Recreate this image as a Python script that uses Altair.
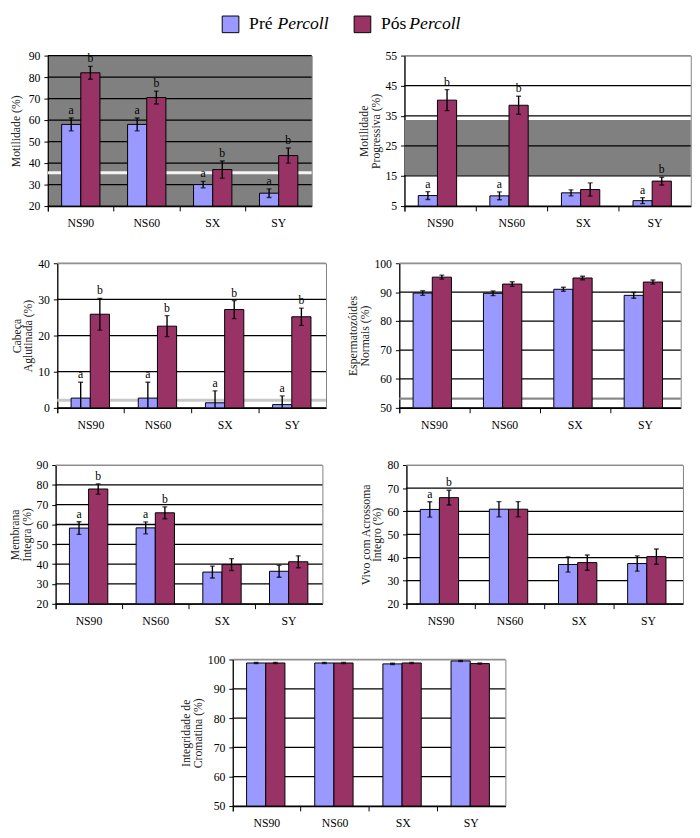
import altair as alt
import pandas as pd

categories = ["NS90", "NS60", "SX", "SY"]
series = ["Pré Percoll", "Pós Percoll"]
prefixes = ["Pré", "Pós"]
colors = ["#9999FF", "#993366"]

# Motilidade (%)
mot_pre = [58, 58, 30, 26]
mot_pre_err = [3, 3, 1.5, 2]
mot_pos = [82, 70.5, 37, 43.5]
mot_pos_err = [3, 3, 4, 3.5]
mot_pre_lbl = ["a", "a", "a", "a"]
mot_pos_lbl = ["b", "b", "b", "b"]

# Motilidade Progressiva (%)
prog_pre = [8.5, 8.4, 9.4, 6.8]
prog_pre_err = [1.3, 1.3, 1.0, 1.0]
prog_pos = [40.2, 38.5, 10.5, 13.3]
prog_pos_err = [3.5, 3.0, 2.2, 1.3]
prog_pre_lbl = ["a", "a", "", "a"]
prog_pos_lbl = ["b", "b", "", "b"]

# Cabeça Aglutinada (%)
cab_pre = [2.7, 2.7, 1.4, 0.9]
cab_pre_err = [4.4, 4.4, 3.3, 2.4]
cab_pos = [25.9, 22.6, 27.2, 25.2]
cab_pos_err = [4.4, 2.9, 2.5, 2.4]
cab_pre_lbl = ["a", "a", "a", "a"]
cab_pos_lbl = ["b", "b", "b", "b"]

# Espermatozóides Normais (%)
nor_pre = [89.7, 89.6, 91.0, 88.9]
nor_pre_err = [0.8, 0.8, 0.7, 1.0]
nor_pos = [95.2, 92.8, 94.9, 93.5]
nor_pos_err = [0.7, 0.8, 0.6, 0.7]
nor_lbl = ["", "", "", ""]

# Membrana Íntegra (%)
mem_pre = [58.2, 58.3, 36.0, 36.4]
mem_pre_err = [3.2, 3.0, 3.0, 3.0]
mem_pos = [77.9, 65.9, 39.8, 41.2]
mem_pos_err = [2.6, 3.0, 3.0, 3.0]
mem_pre_lbl = ["a", "a", "", ""]
mem_pos_lbl = ["b", "b", "", ""]

# Vivo com Acrossoma Íntegro (%)
viv_pre = [60.8, 60.9, 37.0, 37.4]
viv_pre_err = [3.3, 3.3, 3.3, 3.3]
viv_pos = [65.9, 60.9, 37.8, 40.4]
viv_pos_err = [3.2, 3.3, 3.3, 3.3]
viv_pre_lbl = ["a", "", "", ""]
viv_pos_lbl = ["b", "", "", ""]

# Integridade de Cromatina (%)
cro_pre = [98.8, 98.8, 98.5, 99.5]
cro_pre_err = [0.2, 0.2, 0.2, 0.2]
cro_pos = [98.8, 98.8, 98.8, 98.6]
cro_pos_err = [0.2, 0.2, 0.2, 0.2]
cro_lbl = ["", "", "", ""]

FONT = "Liberation Serif"


def panel(pre, pre_err, pos, pos_err, pre_lbl, pos_lbl, ymin, ymax, ystep,
          title, w, h, tpad=3, fill=None, band=None, ref=None):
    rows = []
    for i, c in enumerate(categories):
        for s, v, e, l in ((series[0], pre[i], pre_err[i], pre_lbl[i]),
                           (series[1], pos[i], pos_err[i], pos_lbl[i])):
            rows.append(dict(cat=c, serie=s, value=v, lo=v - e, hi=v + e, label=l))
    df = pd.DataFrame(rows)
    ticks = list(range(ymin, ymax + 1, ystep))

    yscale = alt.Scale(domain=[ymin, ymax], nice=False, zero=False)
    yaxis = alt.Axis(values=ticks, grid=False, title=title, tickSize=4,
                     labelPadding=4, titlePadding=tpad, titleLineHeight=12,
                     domainWidth=1.2)

    def Y(field):
        return alt.Y(field, scale=yscale, axis=yaxis, title=title)

    x = alt.X("cat:N", sort=categories,
              scale=alt.Scale(paddingInner=0, paddingOuter=0),
              axis=alt.Axis(title=None, labelAngle=0, bandPosition=0, tickExtra=True,
                            tickSize=5, labelPadding=7, domainWidth=1.2))
    xo = alt.XOffset("serie:N", sort=series,
                     scale=alt.Scale(paddingInner=0, paddingOuter=0.72))

    layers = []
    if band is not None:
        bdf = pd.DataFrame({"y0": [band[0]], "y1": [band[1]]})
        layers.append(alt.Chart(bdf).mark_rect(color="#808080").encode(
            y=Y("y0:Q"), y2="y1:Q"))
    if ref is not None:
        rdf = pd.DataFrame({"v": [ref[0]]})
        layers.append(alt.Chart(rdf).mark_rule(color=ref[1], strokeWidth=ref[2]).encode(
            y=Y("v:Q")))
    gdf = pd.DataFrame({"v": ticks})
    top_col = "black" if fill else "#909090"
    layers.append(alt.Chart(gdf).mark_rule(strokeWidth=1.3).encode(
        y=Y("v:Q"),
        color=alt.condition(alt.datum.v == ymax, alt.value(top_col), alt.value("black"))))

    base = alt.Chart(df)
    layers.append(base.mark_bar(stroke="black", strokeWidth=1, clip=True).encode(
        x=x, xOffset=xo, y=Y("value:Q"), y2=alt.datum(ymin),
        color=alt.Color("serie:N", scale=alt.Scale(domain=series, range=colors), legend=None)))
    layers.append(base.mark_rule(color="black", strokeWidth=1.4, clip=True).encode(
        x=x, xOffset=xo, y=Y("lo:Q"), y2="hi:Q"))
    layers.append(base.mark_tick(color="black", size=5, thickness=1.4, clip=True).encode(
        x=x, xOffset=xo, y=Y("lo:Q")))
    layers.append(base.mark_tick(color="black", size=5, thickness=1.4, clip=True).encode(
        x=x, xOffset=xo, y=Y("hi:Q")))
    layers.append(base.mark_text(font=FONT, fontSize=12, baseline="bottom", dy=-1,
                                 color="black", fill="black").encode(
        x=x, xOffset=xo, y=Y("hi:Q"), text="label:N"))

    view = alt.ViewBackground(stroke="#808080", strokeWidth=1,
                              fill=fill if fill else "white")
    return alt.layer(*layers).properties(width=w, height=h, view=view)


p1 = panel(mot_pre, mot_pre_err, mot_pos, mot_pos_err, mot_pre_lbl, mot_pos_lbl,
           20, 90, 10, "Motilidade (%)", 270, 154, tpad=6, fill="#808080",
           ref=(35.5, "#f4f4f4", 3))
p2 = panel(prog_pre, prog_pre_err, prog_pos, prog_pos_err, prog_pre_lbl, prog_pos_lbl,
           5, 55, 10, ["Motilidade", "Progressiva (%)"], 293, 154, band=(15.3, 33.6))
p3 = panel(cab_pre, cab_pre_err, cab_pos, cab_pos_err, cab_pre_lbl, cab_pos_lbl,
           0, 40, 10, ["Cabeça", "Aglutinada (%)"], 275, 148,
           ref=(2.1, "#c8c8c8", 3))
p4 = panel(nor_pre, nor_pre_err, nor_pos, nor_pos_err, nor_lbl, nor_lbl,
           50, 100, 10, ["Espermatozóides", "Normais (%)"], 288, 148,
           ref=(53.2, "#8a8a8a", 2.5))
p5 = panel(mem_pre, mem_pre_err, mem_pos, mem_pos_err, mem_pre_lbl, mem_pos_lbl,
           20, 90, 10, ["Membrana", "Íntegra (%)"], 273, 142)
p6 = panel(viv_pre, viv_pre_err, viv_pos, viv_pos_err, viv_pre_lbl, viv_pos_lbl,
           20, 80, 10, ["Vivo com Acrossoma", "Íntegro (%)"], 283, 142)
p7 = panel(cro_pre, cro_pre_err, cro_pos, cro_pos_err, cro_lbl, cro_lbl,
           50, 100, 10, ["Integridade de", "Cromatina (%)"], 279, 150)

# Legend built from the series names
ldf = pd.DataFrame({"serie": series, "prefix": prefixes, "italic": ["Percoll", "Percoll"]})
lx = alt.X("serie:N", sort=series,
           scale=alt.Scale(type="point", range=[8, 143], padding=0), axis=None)
lbase = alt.Chart(ldf)
legend = alt.layer(
    lbase.mark_square(size=290, stroke="black", strokeWidth=1, opacity=1).encode(
        x=lx, color=alt.Color("serie:N", scale=alt.Scale(domain=series, range=colors), legend=None)),
    lbase.mark_text(font=FONT, fontSize=18, align="left", dx=19,
                    color="black").encode(x=lx, text="prefix:N"),
    lbase.mark_text(font=FONT, fontSize=18, fontStyle="italic", align="left",
                    dx=48, color="black").encode(x=lx, text="italic:N"),
).properties(width=300, height=18,
             view=alt.ViewBackground(stroke="transparent", fill="transparent"))

row1 = alt.hconcat(p1, p2, spacing=44)
row2 = alt.hconcat(p3, p4, spacing=18)
row3 = alt.hconcat(p5, p6, spacing=35)

rows123 = alt.vconcat(row1, row2, row3, spacing=27.5, center=True)
mid = alt.vconcat(rows123, p7, spacing=19, center=True)

chart = alt.vconcat(legend, mid, spacing=13, center=True).properties(
    padding={"left": 0, "top": -5, "right": 0, "bottom": 0}
).configure(font=FONT).configure_axis(
    labelFont=FONT, titleFont=FONT, labelFontSize=12, titleFontSize=12,
    titleFontWeight="normal", labelColor="black", titleColor="#222222",
    domainColor="black", tickColor="black"
)

chart.save("out.html", embed_options={"renderer": "svg", "actions": False})
